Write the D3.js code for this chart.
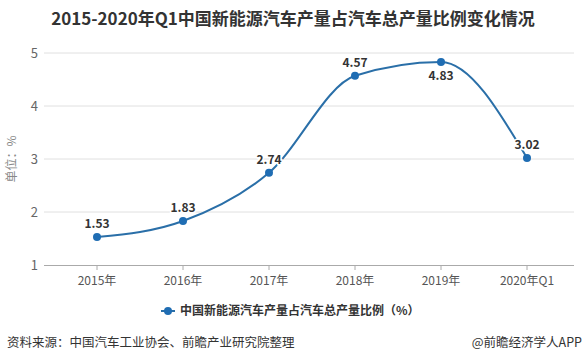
<!DOCTYPE html>
<html>
<head>
<meta charset="utf-8">
<script src="https://cdn.jsdelivr.net/npm/d3@7/dist/d3.min.js"></script>
<style>
  body { margin: 0; background: #fff; }
  svg { display: block; font-family: "Microsoft YaHei", "Noto Sans CJK SC", sans-serif; }
</style>
</head>
<body>
<div id="chart"></div>
<script>
// values
const categories = ["2015年", "2016年", "2017年", "2018年", "2019年", "2020年Q1"];
const shareValues = [1.53, 1.83, 2.74, 4.57, 4.83, 3.02];
const yTicks = [1, 2, 3, 4, 5];
const seriesName = "中国新能源汽车产量占汽车总产量比例（%）";

const width = 587;
const height = 363;
const lineColor = "#2a6fa8";
const dotColor = "#1f6db3";

const svg = d3.select("#chart")
  .append("svg")
  .attr("width", width)
  .attr("height", height);

const x = d3.scaleBand()
  .domain(categories)
  .range([54, 570]);

const y = d3.scaleLinear()
  .domain([1, 5])
  .range([265, 53]);

// title
svg.append("text")
  .attr("x", 293)
  .attr("y", 25)
  .attr("text-anchor", "middle")
  .style("font-size", "17px")
  .style("font-weight", "bold")
  .style("fill", "#333")
  .text("2015-2020年Q1中国新能源汽车产量占汽车总产量比例变化情况");

// horizontal grid lines
svg.append("g")
  .selectAll("line")
  .data(yTicks.filter(d => d > 1))
  .enter()
  .append("line")
  .attr("x1", 44)
  .attr("x2", 574)
  .attr("y1", d => y(d))
  .attr("y2", d => y(d))
  .attr("stroke", "#e0e0e0")
  .attr("stroke-width", 1);

// y axis labels
const yAxis = svg.append("g")
  .attr("transform", "translate(44,0)")
  .call(d3.axisLeft(y).tickValues(yTicks).tickFormat(d3.format("d")).tickSize(0).tickPadding(6));
yAxis.select(".domain").remove();
yAxis.selectAll("text")
  .style("font-size", "13px")
  .style("fill", "#666")
  .style("font-family", "Microsoft YaHei, Noto Sans CJK SC, sans-serif");

// x axis
const xAxis = svg.append("g")
  .attr("transform", "translate(0,265)")
  .call(d3.axisBottom(x).tickSize(5).tickPadding(6).tickSizeOuter(0));
xAxis.select(".domain")
  .attr("d", "M44,0.5H574")
  .attr("stroke", "#aaa");
xAxis.selectAll(".tick line").attr("stroke", "#aaa");
xAxis.selectAll("text")
  .style("font-size", "12px")
  .style("fill", "#555")
  .style("font-family", "Microsoft YaHei, Noto Sans CJK SC, sans-serif");

// y axis title
svg.append("text")
  .attr("transform", "translate(16,159) rotate(-90)")
  .attr("text-anchor", "middle")
  .style("font-size", "12px")
  .style("fill", "#888")
  .text("单位：%");

const points = categories.map((c, i) => ({ cat: c, value: shareValues[i] }));
const cx = d => x(d.cat) + x.bandwidth() / 2;

// line
const line = d3.line()
  .x(cx)
  .y(d => y(d.value))
  .curve(d3.curveMonotoneX);

svg.append("path")
  .datum(points)
  .attr("d", line)
  .attr("fill", "none")
  .attr("stroke", lineColor)
  .attr("stroke-width", 2);

svg.append("g")
  .selectAll("circle")
  .data(points)
  .enter()
  .append("circle")
  .attr("cx", cx)
  .attr("cy", d => y(d.value))
  .attr("r", 4)
  .attr("fill", dotColor);

// value labels (4.83 sits under its point)
svg.append("g")
  .selectAll("text")
  .data(points)
  .enter()
  .append("text")
  .attr("x", cx)
  .attr("y", d => d.cat === "2019年" ? y(d.value) + 18 : y(d.value) - 9)
  .attr("text-anchor", "middle")
  .style("font-size", "12px")
  .style("font-weight", "bold")
  .style("fill", "#333")
  .style("paint-order", "stroke")
  .style("stroke", "#fff")
  .style("stroke-width", "3px")
  .text(d => d.value.toFixed(2));

// legend
const legend = svg.append("g").attr("transform", "translate(168,311)");
legend.append("line")
  .attr("x1", -7).attr("x2", 7)
  .attr("stroke", lineColor)
  .attr("stroke-width", 2);
legend.append("circle")
  .attr("r", 4)
  .attr("fill", dotColor);
legend.append("text")
  .attr("x", 12)
  .attr("y", 4)
  .style("font-size", "12px")
  .style("font-weight", "bold")
  .style("fill", "#333")
  .text(seriesName);

// footer
svg.append("text")
  .attr("x", 7)
  .attr("y", 347)
  .style("font-size", "12.5px")
  .style("fill", "#333")
  .text("资料来源：中国汽车工业协会、前瞻产业研究院整理");

svg.append("text")
  .attr("x", 582)
  .attr("y", 347)
  .attr("text-anchor", "end")
  .style("font-size", "12.5px")
  .style("fill", "#333")
  .text("@前瞻经济学人APP");
</script>
</body>
</html>
